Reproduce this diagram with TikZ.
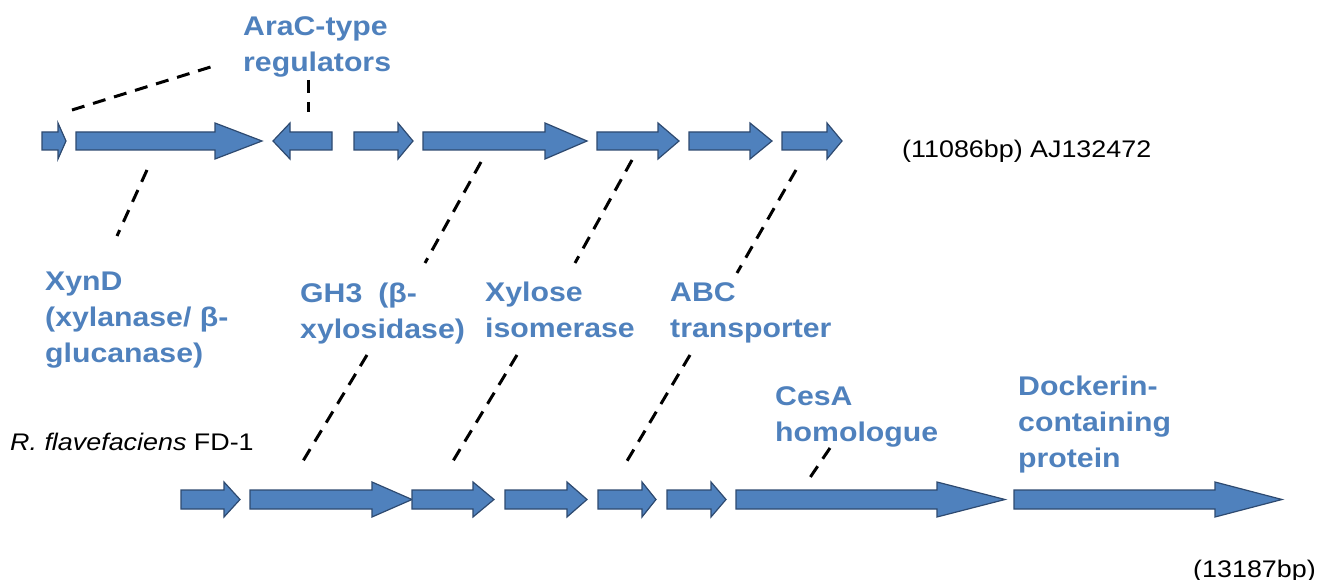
\documentclass[tikz,border=0pt]{standalone}
\usepackage{fontspec}
\setmainfont{Liberation Sans}
\newfontfamily\lblfont[FakeStretch=1.12]{Liberation Sans}
\definecolor{geneblue}{HTML}{4F81BD}
\definecolor{geneedge}{HTML}{2E4A70}
\definecolor{lblblue}{HTML}{4F81BD}
\tikzset{
  genebox/.style={fill=geneblue, draw=geneedge, line width=1.2pt, line join=miter},
  link/.style={draw=black, line width=3pt, dash pattern=on 13pt off 9pt},
  lbl/.style={font=\lblfont\bfseries\fontsize{27}{36}\selectfont, text=lblblue,
              anchor=north west, align=left, inner sep=0pt},
  note/.style={font=\lblfont\fontsize{24}{29}\selectfont, text=black,
               anchor=base west, inner sep=0pt}
}
% name, x start, head start, tip, y centre, body half height, head half height
\newcommand\genearrow[7]{%
  \draw[genebox] (#2,#5-#6) -- (#3,#5-#6) -- (#3,#5-#7) -- (#4,#5)
    -- (#3,#5+#7) -- (#3,#5+#6) -- (#2,#5+#6) -- cycle;
  \coordinate (#1) at ({(#2+#4)/2},#5);}
\begin{document}
\begin{tikzpicture}[x=1pt,y=-1pt]
\path[use as bounding box] (0,0) rectangle (1339,580);

% top row (AJ132472)
\genearrow{a1}{42}{58}{66}{141}{9}{18}
\genearrow{a2}{76}{215}{262}{141}{9}{18}
\genearrow{a3}{332}{290}{273}{141}{9}{18}
\genearrow{a4}{354}{398}{413}{141}{9}{18}
\genearrow{a5}{423}{545}{587}{141}{9}{18}
\genearrow{a6}{597}{658}{679}{141}{9}{18}
\genearrow{a7}{689}{750}{772}{141}{9}{18}
\genearrow{a8}{782}{827}{842}{141}{9}{18}

% bottom row (R. flavefaciens FD-1)
\genearrow{b1}{181}{224}{240}{499.5}{9.5}{17.5}
\genearrow{b2}{250}{372}{412}{499.5}{9.5}{17.5}
\genearrow{b3}{412}{473}{494}{499.5}{9.5}{17.5}
\genearrow{b4}{505}{567}{587}{499.5}{9.5}{17.5}
\genearrow{b5}{598}{642}{656}{499.5}{9.5}{17.5}
\genearrow{b6}{667}{711}{726}{499.5}{9.5}{17.5}
\genearrow{b7}{736}{937}{1005}{499.5}{9.5}{17.5}
\genearrow{b8}{1014}{1215}{1282}{499.5}{9.5}{17.5}

% labels
\node[lbl] (arac) at (243,13) {\rule{0pt}{22pt}AraC-type\\regulators};
\node[lbl] (xynd) at (45,268) {\rule{0pt}{22pt}XynD\\(xylanase/ β-\\glucanase)};
\node[lbl] (gh3) at (300,280) {\rule{0pt}{22pt}GH3\hspace{16pt}(β-\\xylosidase)};
\node[lbl] (xyl) at (485,279) {\rule{0pt}{22pt}Xylose\\isomerase};
\node[lbl] (abc) at (670,279) {\rule{0pt}{22pt}ABC\\transporter};
\node[lbl] (cesa) at (775,383) {\rule{0pt}{22pt}CesA\\homologue};
\node[lbl] (dock) at (1018,373) {\rule{0pt}{22pt}Dockerin-\\containing\\protein};

\node[note] (aj) at (902,158) {(11086bp) AJ132472};
\node[note] (rfl) at (10,450) {\textit{R. flavefaciens} FD-1};
\node[note] (len) at (1193,577) {(13187bp)};

% dashed connectors
\coordinate (l1a) at (72,110);   \coordinate (l1b) at (217,65);
\coordinate (l2a) at (308,80);   \coordinate (l2b) at (308,112);
\coordinate (l3a) at (147,170);  \coordinate (l3b) at (117,236);
\coordinate (l4a) at (481,162);  \coordinate (l4b) at (425,263);
\coordinate (l5a) at (367,355);  \coordinate (l5b) at (303,461);
\coordinate (l6a) at (632,160);  \coordinate (l6b) at (575,263);
\coordinate (l7a) at (517,355);  \coordinate (l7b) at (453,461);
\coordinate (l8a) at (796,170);  \coordinate (l8b) at (737,273);
\coordinate (l9a) at (690,355);  \coordinate (l9b) at (627,461);
\coordinate (l10a) at (830,448); \coordinate (l10b) at (807,482);
\foreach \i in {1,...,10} \draw[link] (l\i a) -- (l\i b);
\end{tikzpicture}
\end{document}
